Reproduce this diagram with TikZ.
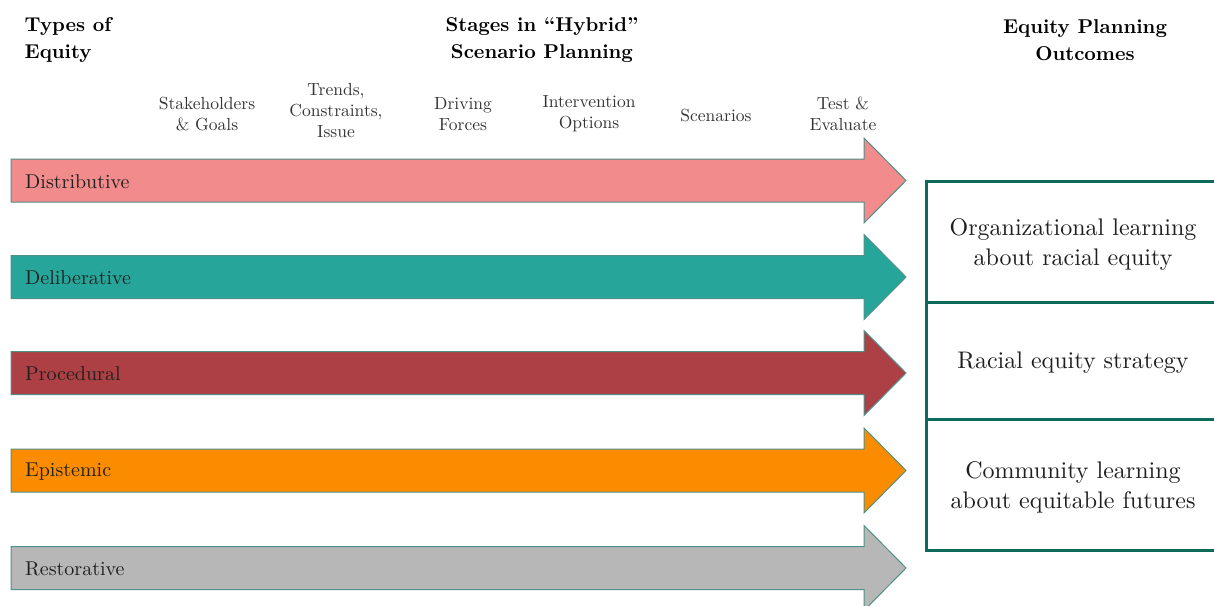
\documentclass[tikz,border=0pt]{standalone}
\usepackage{fontspec}
% design-size 10 Latin Modern at every size
\setmainfont{lmroman10}[Extension=.otf, UprightFont=*-regular, BoldFont=*-bold, ItalicFont=*-italic]
\begin{document}
\begin{tikzpicture}[x=1pt,y=-1pt,
  header/.style={font=\fontsize{20}{27}\selectfont\bfseries, align=center, inner sep=0pt, text=black},
  stagelabel/.style={font=\fontsize{17.5}{21}\selectfont, align=center, inner sep=0pt, text=black!80},
  typelabel/.style={font=\fontsize{20}{22}\selectfont, anchor=west, inner sep=0pt, text=black!88},
  outcome/.style={font=\fontsize{24}{30}\selectfont, align=center, inner sep=0pt, text=black!88},
  equityarrow/.style={draw=arrowedge, line width=1pt, line join=miter},
  cellline/.style={draw=boxteal, line width=3pt}
]
\definecolor{arrowedge}{HTML}{4E9188}
\definecolor{boxteal}{HTML}{0E6B5C}
\definecolor{cDistributive}{HTML}{F28B8B}
\definecolor{cDeliberative}{HTML}{26A69A}
\definecolor{cProcedural}{HTML}{AD4044}
\definecolor{cEpistemic}{HTML}{FB8C00}
\definecolor{cRestorative}{HTML}{B7B7B7}

\useasboundingbox (0,0) rectangle (1214,605);
\clip (0,0) rectangle (1214,605);

% column headers
\node[header] (hTypes) at (68,40) {\begin{tabular}{@{}l@{}}Types of\\Equity\end{tabular}};
\node[header] (hStages) at (542,40) {Stages in ``Hybrid''\\Scenario Planning};
\node[header] (hOutcomes) at (1085,40) {Equity Planning\\Outcomes};

% stage labels across the top
\node[stagelabel] (s1) at (207,114) {Stakeholders\\\& Goals};
\node[stagelabel] (s2) at (336,111) {Trends,\\Constraints,\\Issue};
\node[stagelabel] (s3) at (463,114) {Driving\\Forces};
\node[stagelabel] (s4) at (589,114) {Intervention\\Options};
\node[stagelabel] (s5) at (716,116) {Scenarios};
\node[stagelabel] (s6) at (843,114) {Test \&\\Evaluate};

% block arrows, one per type of equity
\foreach \c/\col/\name [count=\i] in {180.5/cDistributive/Distributive, 277/cDeliberative/Deliberative, 373/cProcedural/Procedural, 470.5/cEpistemic/Epistemic, 568/cRestorative/Restorative}{
  \draw[equityarrow, fill=\col]
    (11,\c-21.5) -- (864,\c-21.5) -- (864,\c-42.5) -- (906,\c)
    -- (864,\c+42.5) -- (864,\c+21.5) -- (11,\c+21.5) -- cycle;
  \node[typelabel] (t\i) at (25,\c+1) {\name};
}

% outcome table
\coordinate (boxNW) at (926,181);
\coordinate (boxSE) at (1220,550);
\draw[cellline] (boxNW) rectangle (boxSE);
\draw[cellline] (926,302) -- (1220,302);
\draw[cellline] (926,419) -- (1220,419);

\node[outcome] (o1) at (1073,244) {Organizational learning\\about racial equity};
\node[outcome] (o2) at (1073,363) {Racial equity strategy};
\node[outcome] (o3) at (1073,487) {Community learning\\about equitable futures};
\end{tikzpicture}
\end{document}
